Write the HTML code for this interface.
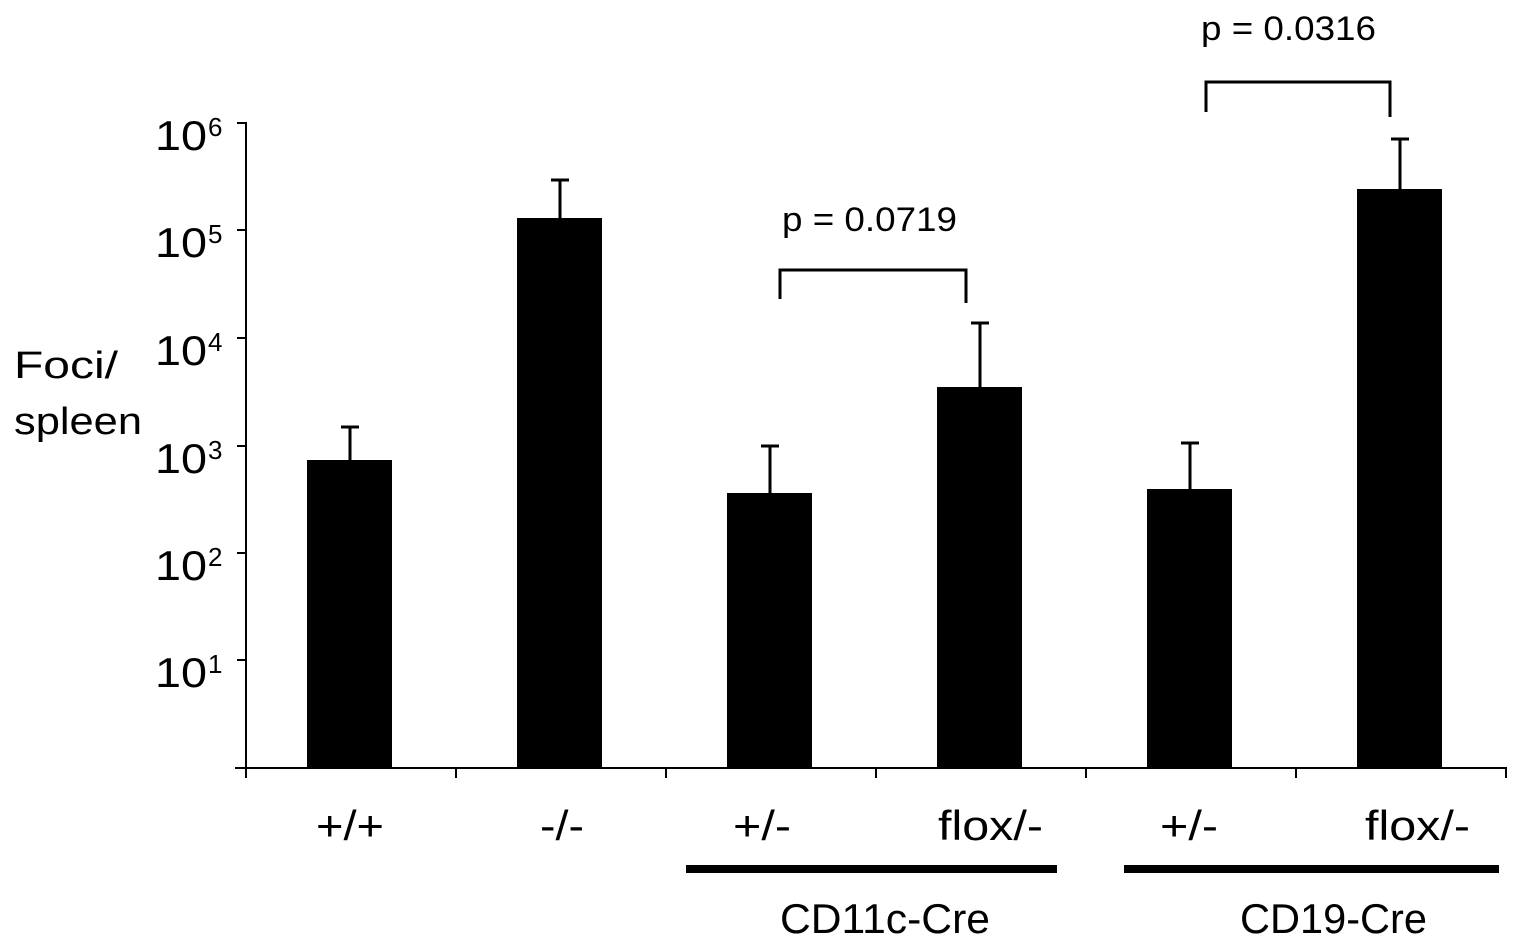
<!DOCTYPE html>
<html><head><style>body{margin:0;background:#fff}svg{display:block}text{font-family:"Liberation Sans",sans-serif;fill:#000}</style></head>
<body>
<svg width="1521" height="948" viewBox="0 0 1521 948">
<g stroke="#000" stroke-width="2" fill="none">
<line x1="246" y1="122" x2="246" y2="769"/>
<line x1="235" y1="768" x2="1507" y2="768"/>
<line x1="237" y1="123" x2="246" y2="123"/>
<line x1="237" y1="230" x2="246" y2="230"/>
<line x1="237" y1="338" x2="246" y2="338"/>
<line x1="237" y1="446" x2="246" y2="446"/>
<line x1="237" y1="553" x2="246" y2="553"/>
<line x1="237" y1="660" x2="246" y2="660"/>
<line x1="246" y1="768" x2="246" y2="778"/>
<line x1="456" y1="768" x2="456" y2="778"/>
<line x1="666" y1="768" x2="666" y2="778"/>
<line x1="876" y1="768" x2="876" y2="778"/>
<line x1="1086" y1="768" x2="1086" y2="778"/>
<line x1="1296" y1="768" x2="1296" y2="778"/>
<line x1="1506" y1="768" x2="1506" y2="778"/>
</g>
<g fill="#000">
<rect x="307" y="460" width="85" height="308"/>
<rect x="517" y="218" width="85" height="550"/>
<rect x="727" y="493" width="85" height="275"/>
<rect x="937" y="387" width="85" height="381"/>
<rect x="1147" y="489" width="85" height="279"/>
<rect x="1357" y="189" width="85" height="579"/>
</g>
<g stroke="#000" stroke-width="3" fill="none">
<path d="M350 460V427M341 427H359"/>
<path d="M560 218V180M551 180H569"/>
<path d="M770 493V446M761 446H779"/>
<path d="M980 387V323M971 323H989"/>
<path d="M1190 489V443M1181 443H1199"/>
<path d="M1400 189V139M1391 139H1409"/>
<path d="M780 299V270H966V303"/>
<path d="M1206 112V82H1390V117"/>
</g>
<rect x="686" y="865" width="371" height="8" fill="#000"/>
<rect x="1124" y="865" width="375" height="8" fill="#000"/>
<g font-size="42">
<text x="155" y="150" textLength="52" lengthAdjust="spacingAndGlyphs">10</text><text x="208" y="136" font-size="26">6</text>
<text x="155" y="257" textLength="52" lengthAdjust="spacingAndGlyphs">10</text><text x="208" y="243" font-size="26">5</text>
<text x="155" y="365" textLength="52" lengthAdjust="spacingAndGlyphs">10</text><text x="208" y="351" font-size="26">4</text>
<text x="155" y="473" textLength="52" lengthAdjust="spacingAndGlyphs">10</text><text x="208" y="459" font-size="26">3</text>
<text x="155" y="580" textLength="52" lengthAdjust="spacingAndGlyphs">10</text><text x="208" y="566" font-size="26">2</text>
<text x="155" y="687" textLength="52" lengthAdjust="spacingAndGlyphs">10</text><text x="208" y="673" font-size="26">1</text>
<text x="14" y="378" font-size="38" textLength="104" lengthAdjust="spacingAndGlyphs">Foci/</text>
<text x="14" y="434" font-size="38" textLength="128" lengthAdjust="spacingAndGlyphs">spleen</text>
<text x="316" y="840" textLength="68" lengthAdjust="spacingAndGlyphs">+/+</text>
<text x="540" y="840" textLength="44" lengthAdjust="spacingAndGlyphs">-/-</text>
<text x="733" y="840" textLength="58" lengthAdjust="spacingAndGlyphs">+/-</text>
<text x="938" y="840" textLength="105" lengthAdjust="spacingAndGlyphs">flox/-</text>
<text x="1160" y="840" textLength="58" lengthAdjust="spacingAndGlyphs">+/-</text>
<text x="1365" y="840" textLength="105" lengthAdjust="spacingAndGlyphs">flox/-</text>
<text x="780" y="933" textLength="210" lengthAdjust="spacingAndGlyphs">CD11c-Cre</text>
<text x="1240" y="933" textLength="187" lengthAdjust="spacingAndGlyphs">CD19-Cre</text>
</g>
<g font-size="34">
<text x="782" y="231" textLength="175" lengthAdjust="spacingAndGlyphs">p = 0.0719</text>
<text x="1201" y="40" textLength="175" lengthAdjust="spacingAndGlyphs">p = 0.0316</text>
</g>
</svg>
</body></html>
